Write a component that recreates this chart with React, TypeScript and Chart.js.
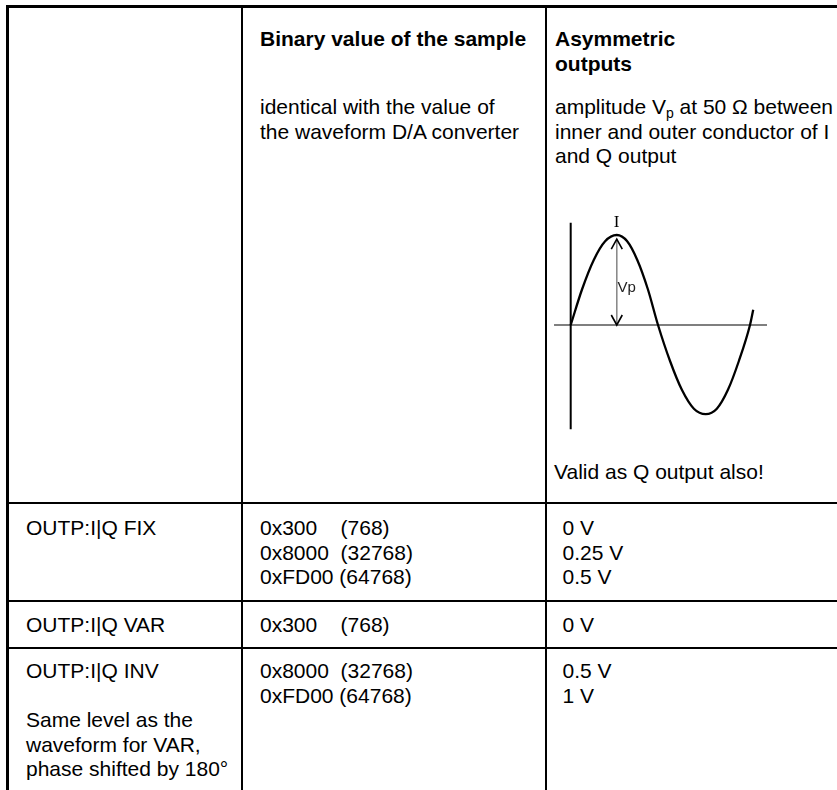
import React, { useEffect, useRef } from "react";
import { Chart, registerables } from "chart.js";

Chart.register(...registerables);

// Sine wave: phase (in periods) and level (in units of Vp)
const wavePhase = [0, 0.064, 0.128, 0.192, 0.257, 0.315, 0.372, 0.43, 0.487, 0.554, 0.62, 0.687, 0.753, 0.815, 0.877, 0.938, 1.0, 1.018];
const waveLevel = [0, 0.4, 0.72, 0.93, 1.0, 0.93, 0.72, 0.4, 0, -0.4, -0.72, -0.93, -0.99, -0.93, -0.72, -0.4, 0, 0.17];

// Axis lines of the small diagram (phase span of horizontal axis, level span of vertical axis)
const hAxisPhase = [-0.093, 1.095];
const vAxisLevel = [1.137, -1.159];

// Vp arrow: at the phase of the peak, from 0 to the peak
const arrowPhase = 0.257;
const arrowLevel = [0, 0.955];

// Table texts
const headCol2 = "Binary value of the sample";
const headCol3 = ["Asymmetric", "outputs"];
const descCol2 = ["identical with the value of", "the waveform D/A converter"];
const descCol3Rest = ["inner and outer conductor of I", "and Q output"];
const validText = "Valid as Q output also!";
const rowLabels = ["OUTP:I|Q FIX", "OUTP:I|Q VAR", "OUTP:I|Q INV"];
const invNote = ["Same level as the", "waveform for VAR,", "phase shifted by 180°"];
const binFix = ["0x300    (768)", "0x8000  (32768)", "0xFD00 (64768)"];
const binVar = ["0x300    (768)"];
const binInv = ["0x8000  (32768)", "0xFD00 (64768)"];
const voltFix = ["0 V", "0.25 V", "0.5 V"];
const voltVar = ["0 V"];
const voltInv = ["0.5 V", "1 V"];

const FONT = '"Liberation Sans", Arial, Helvetica, sans-serif';

const arrowHeads = {
  id: "arrowHeads",
  afterDatasetsDraw(chart: any) {
    const meta = chart.getDatasetMeta(1);
    const pts = meta.data;
    if (!pts || pts.length < 2) return;
    const ctx = chart.ctx;
    ctx.save();
    ctx.strokeStyle = "#000";
    ctx.lineWidth = 1.6;
    const b = pts[0];
    const t = pts[1];
    ctx.beginPath();
    ctx.moveTo(b.x - 5.5, b.y - 10);
    ctx.lineTo(b.x, b.y);
    ctx.lineTo(b.x + 5.5, b.y - 10);
    ctx.stroke();
    ctx.beginPath();
    ctx.moveTo(t.x - 5.5, t.y + 10);
    ctx.lineTo(t.x, t.y);
    ctx.lineTo(t.x + 5.5, t.y + 10);
    ctx.stroke();
    ctx.restore();
  },
};

function SineDiagram() {
  const ref = useRef<HTMLCanvasElement | null>(null);
  useEffect(() => {
    if (!ref.current) return;
    const chart = new Chart(ref.current, {
      type: "line",
      data: {
        datasets: [
          {
            data: wavePhase.map((p, i) => ({ x: p, y: waveLevel[i] })),
            borderColor: "#000",
            borderWidth: 2.3,
            pointRadius: 0,
            cubicInterpolationMode: "monotone",
            clip: false,
          } as any,
          {
            data: arrowLevel.map((l) => ({ x: arrowPhase, y: l })),
            borderColor: "#8a8a8a",
            borderWidth: 1.6,
            pointRadius: 0,
            clip: false,
          },
          {
            data: hAxisPhase.map((p) => ({ x: p, y: 0 })),
            borderColor: "#000",
            borderWidth: 1.2,
            pointRadius: 0,
            clip: false,
          },
          {
            data: vAxisLevel.map((l) => ({ x: 0, y: l })),
            borderColor: "#000",
            borderWidth: 2,
            pointRadius: 0,
            clip: false,
          },
        ],
      },
      options: {
        animation: false,
        responsive: false,
        maintainAspectRatio: false,
        layout: { padding: 0 },
        events: [],
        scales: {
          x: { type: "linear", display: false, min: -0.0987, max: 1.2008 },
          y: { type: "linear", display: false, min: -1.3, max: 1.3 },
        },
        plugins: { legend: { display: false }, tooltip: { enabled: false } },
      },
      plugins: [arrowHeads],
    });
    return () => chart.destroy();
  }, []);
  return (
    <canvas
      ref={ref}
      width={233}
      height={234}
      style={{ position: "absolute", left: 553, top: 208, width: 233, height: 234 }}
    />
  );
}

const textStyle = (x: number, y: number, bold?: boolean): React.CSSProperties => ({
  position: "absolute",
  left: x,
  top: y,
  fontFamily: FONT,
  fontSize: 21,
  lineHeight: "24.5px",
  fontWeight: bold ? 700 : 400,
  whiteSpace: "pre",
  color: "#000",
});

function T(props: { x: number; y: number; lines: string[]; bold?: boolean }) {
  return <div style={textStyle(props.x, props.y, props.bold)}>{props.lines.join("\n")}</div>;
}

function Line(props: { x: number; y: number; w: number; h: number }) {
  return (
    <div
      style={{
        position: "absolute",
        left: props.x,
        top: props.y,
        width: props.w,
        height: props.h,
        background: "#000",
      }}
    />
  );
}

export default function App() {
  return (
    <div
      style={{
        position: "fixed",
        left: 0,
        top: 0,
        width: 837,
        height: 790,
        overflow: "hidden",
        background: "#fff",
      }}
    >
      {/* grid */}
      <Line x={6} y={5} w={831} h={3} />
      <Line x={6} y={5} w={3} h={785} />
      <Line x={241} y={5} w={2} h={785} />
      <Line x={545} y={5} w={2} h={785} />
      <Line x={6} y={502} w={831} h={2} />
      <Line x={6} y={599.5} w={831} h={2} />
      <Line x={6} y={647} w={831} h={2} />

      {/* header row */}
      <T x={260} y={27} lines={[headCol2]} bold />
      <T x={555} y={27} lines={headCol3} bold />
      <T x={260} y={95} lines={descCol2} />
      <div style={textStyle(555, 95)}>
        <span>amplitude V</span>
        <span style={{ fontSize: 14, lineHeight: "14px", verticalAlign: -4 }}>p</span>
        <span> at 50 Ω between</span>
      </div>
      <T x={555} y={119.5} lines={descCol3Rest} />
      <SineDiagram />
      <div
        style={{
          position: "absolute",
          left: 606.7,
          width: 20,
          top: 212.5,
          textAlign: "center",
          fontFamily: '"Liberation Serif", "Times New Roman", serif',
          fontSize: 17,
          lineHeight: "17px",
          color: "#000",
        }}
      >
        I
      </div>
      <div
        style={{
          position: "absolute",
          left: 617.5,
          top: 279.3,
          fontFamily: FONT,
          fontSize: 15,
          lineHeight: "15px",
          color: "#222",
        }}
      >
        Vp
      </div>
      <T x={554} y={459.5} lines={[validText]} />

      {/* FIX row */}
      <T x={26} y={516} lines={[rowLabels[0]]} />
      <T x={260} y={516} lines={binFix} />
      <T x={562.5} y={516} lines={voltFix} />

      {/* VAR row */}
      <T x={26} y={612.5} lines={[rowLabels[1]]} />
      <T x={260} y={612.5} lines={binVar} />
      <T x={562.5} y={612.5} lines={voltVar} />

      {/* INV row */}
      <T x={26} y={659} lines={[rowLabels[2], "", ...invNote]} />
      <T x={260} y={659} lines={binInv} />
      <T x={562.5} y={659} lines={voltInv} />
    </div>
  );
}
